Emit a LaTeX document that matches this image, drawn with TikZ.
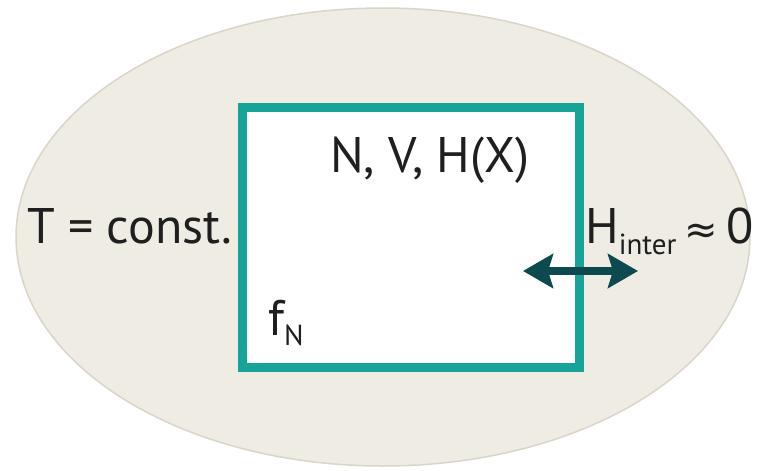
\documentclass[tikz,border=0pt]{standalone}
\usepackage{fontspec}
\setmainfont{PT Sans}
\newfontfamily\symfont{DejaVu Sans}
\usetikzlibrary{shapes.geometric,arrows.meta}
\definecolor{bathfill}{HTML}{EFECE4}
\definecolor{bathline}{HTML}{DAD5CA}
\definecolor{teal}{HTML}{17A398}
\definecolor{darkteal}{HTML}{0C4A50}
\tikzset{
  bigtext/.style={inner sep=0pt, font=\fontsize{50}{60}\selectfont, text=black!88},
  subtext/.style={font=\fontsize{29}{34}\selectfont}
}
\begin{document}
\begin{tikzpicture}[x=1pt,y=-1pt]
\useasboundingbox (0,0) rectangle (758,471);
\fill[white] (0,0) rectangle (758,471);
\node[ellipse, draw=bathline, line width=1.5pt, fill=bathfill, minimum width=734pt, minimum height=458pt, inner sep=0pt] (bath) at (383,237) {};
\node[draw=teal, line width=9pt, fill=white, minimum width=337pt, minimum height=260pt, inner sep=0pt] (sys) at (410.5,237) {};
\node[bigtext, anchor=base west] (temp) at (27,243) {T = const.};
\node[bigtext, anchor=base west] (vars) at (330,172) {N, V, H(X)};
\node[bigtext, anchor=base west] (hint) at (585,243) {H\raisebox{-0.22em}{\fontsize{29}{34}\selectfont inter}\,{\symfont\fontsize{40}{48}\selectfont ≈}\,0};
\node[bigtext, anchor=base west] (fn) at (268,335) {f\raisebox{-0.2em}{\fontsize{29}{34}\selectfont N}};
\coordinate (al) at (523,271);
\coordinate (ar) at (638,271);
\draw[darkteal, line width=8pt, {Stealth[length=30pt,width=34pt,inset=5pt]}-{Stealth[length=30pt,width=34pt,inset=5pt]}] (al) -- (ar);
\end{tikzpicture}
\end{document}
